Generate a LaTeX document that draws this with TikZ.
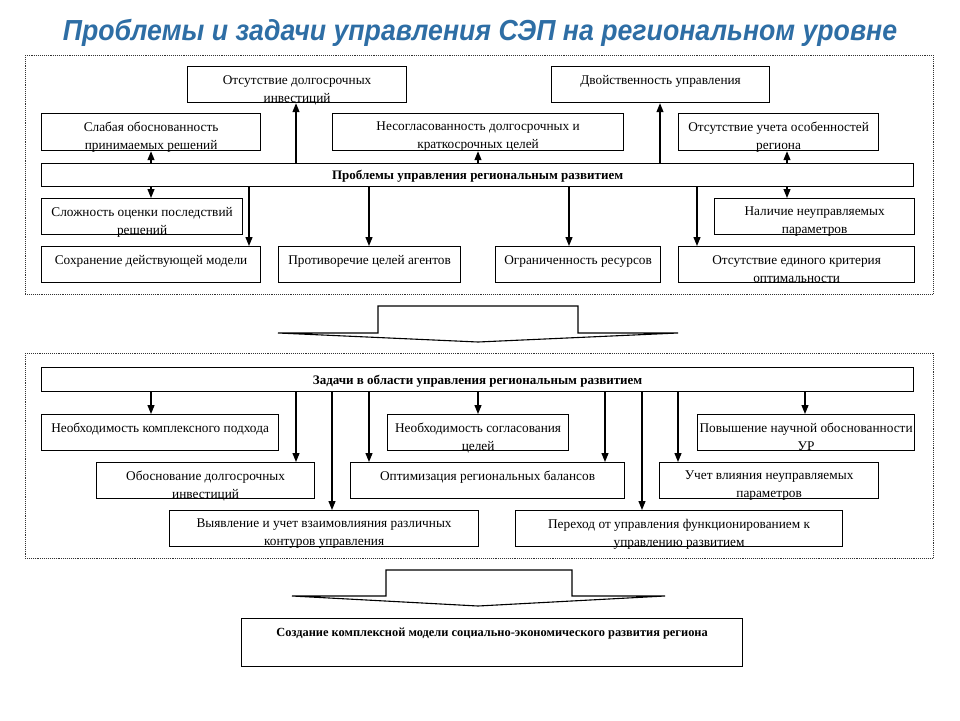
\documentclass[tikz,border=0pt]{standalone}
\usepackage{fontspec}
\setmainfont{Liberation Serif}
\newfontfamily\titlefont{Liberation Sans}
\usetikzlibrary{arrows.meta}
\definecolor{titleblue}{RGB}{46,110,165}
\begin{document}
\begin{tikzpicture}[x=1pt,y=-1pt,
  box/.style={draw,line width=1.2pt,anchor=north west,inner sep=0pt},
  bar/.style={box,font=\bfseries\fontsize{13}{15}\selectfont},
  txt/.style={anchor=north,yshift=-9pt,align=center,inner sep=0pt,
    font=\fontsize{13.3}{18}\selectfont},
  arr/.style={-{Triangle[width=7pt,length=9pt]},line width=1.2pt},
  frame/.style={densely dotted,line width=0.9pt,black!80},
  bigarrow/.style={line width=1.1pt}]
\useasboundingbox (0,0) rectangle (960,720);
\node[font=\titlefont\bfseries\itshape\fontsize{29}{34}\selectfont,text=titleblue]
  (title) at (480,33) {\scalebox{0.92}[1]{Проблемы и задачи управления СЭП на региональном уровне}};
% problems
\draw[frame] (25,55) rectangle (933,294);
\node[box,minimum width=219pt,minimum height=36pt,
  label={[txt]north:Отсутствие долгосрочных\\инвестиций}] (inv) at (187,66) {};
\node[box,minimum width=218pt,minimum height=36pt,
  label={[txt]north:Двойственность управления}] (dvoi) at (551,66) {};
\node[box,minimum width=219pt,minimum height=37pt,
  label={[txt]north:Слабая обоснованность\\принимаемых решений}] (slab) at (41,113) {};
\node[box,minimum width=291pt,minimum height=37pt,
  label={[txt]north:Несогласованность долгосрочных и\\краткосрочных целей}] (nesogl) at (332,113) {};
\node[box,minimum width=200pt,minimum height=37pt,
  label={[txt]north:Отсутствие учета особенностей\\региона}] (osob) at (678,113) {};
\node[bar,minimum width=872pt,minimum height=23pt,text depth=0pt,yshift=-1pt] (prob) at (41,162)
  {Проблемы управления региональным развитием};
\node[box,minimum width=201pt,minimum height=36pt,
  label={[txt]north:Сложность оценки последствий\\решений}] (slozh) at (41,198) {};
\node[box,minimum width=200pt,minimum height=36pt,
  label={[txt]north:Наличие неуправляемых\\параметров}] (nalich) at (714,198) {};
\node[box,minimum width=219pt,minimum height=36pt,
  label={[txt]north:Сохранение действующей модели}] (sohr) at (41,246) {};
\node[box,minimum width=182pt,minimum height=36pt,
  label={[txt]north:Противоречие целей агентов}] (protiv) at (278,246) {};
\node[box,minimum width=165pt,minimum height=36pt,
  label={[txt]north:Ограниченность ресурсов}] (ogran) at (495,246) {};
\node[box,minimum width=236pt,minimum height=36pt,
  label={[txt]north:Отсутствие единого критерия\\оптимальности}] (krit) at (678,246) {};
\draw[arr] (prob.north -| 296,0) -- (inv.south -| 296,0);
\draw[arr] (prob.north -| 151,0) -- (slab.south -| 151,0);
\draw[arr] (prob.north -| 478,0) -- (nesogl.south -| 478,0);
\draw[arr] (prob.north -| 660,0) -- (dvoi.south -| 660,0);
\draw[arr] (prob.north -| 787,0) -- (osob.south -| 787,0);
\draw[arr] (prob.south -| 151,0) -- (slozh.north -| 151,0);
\draw[arr] (prob.south -| 249,0) -- (sohr.north -| 249,0);
\draw[arr] (prob.south -| 369,0) -- (protiv.north -| 369,0);
\draw[arr] (prob.south -| 569,0) -- (ogran.north -| 569,0);
\draw[arr] (prob.south -| 697,0) -- (krit.north -| 697,0);
\draw[arr] (prob.south -| 787,0) -- (nalich.north -| 787,0);
\draw[bigarrow] (278,333) -- (378,333) -- (378,306) -- (578,306) -- (578,333)
  -- (678,333) -- (478,342) -- cycle;
% tasks
\draw[frame] (25,353) rectangle (933,558);
\node[bar,minimum width=872pt,minimum height=24pt,text depth=0pt,yshift=-1pt] (zad) at (41,366)
  {Задачи в области управления региональным развитием};
\node[box,minimum width=237pt,minimum height=36pt,
  label={[txt]north:Необходимость комплексного подхода}] (kompl) at (41,414) {};
\node[box,minimum width=181pt,minimum height=36pt,
  label={[txt]north:Необходимость согласования\\целей}] (sogl) at (387,414) {};
\node[box,minimum width=217pt,minimum height=36pt,
  label={[txt]north:Повышение научной обоснованности\\УР}] (povysh) at (697,414) {};
\node[box,minimum width=218pt,minimum height=36pt,
  label={[txt]north:Обоснование долгосрочных\\инвестиций}] (obosn) at (96,462) {};
\node[box,minimum width=274pt,minimum height=36pt,
  label={[txt]north:Оптимизация региональных балансов}] (optim) at (350,462) {};
\node[box,minimum width=219pt,minimum height=36pt,
  label={[txt]north:Учет влияния неуправляемых\\параметров}] (vliyan) at (659,462) {};
\node[box,minimum width=309pt,minimum height=36pt,
  label={[txt]north:Выявление и учет взаимовлияния различных\\контуров управления}] (vyyavl) at (169,510) {};
\node[box,minimum width=327pt,minimum height=36pt,
  label={[txt]north:Переход от управления функционированием к\\управлению развитием}] (perehod) at (515,510) {};
\draw[arr] (zad.south -| 151,0) -- (kompl.north -| 151,0);
\draw[arr] (zad.south -| 296,0) -- (obosn.north -| 296,0);
\draw[arr] (zad.south -| 332,0) -- (vyyavl.north -| 332,0);
\draw[arr] (zad.south -| 369,0) -- (optim.north -| 369,0);
\draw[arr] (zad.south -| 478,0) -- (sogl.north -| 478,0);
\draw[arr] (zad.south -| 605,0) -- (optim.north -| 605,0);
\draw[arr] (zad.south -| 642,0) -- (perehod.north -| 642,0);
\draw[arr] (zad.south -| 678,0) -- (vliyan.north -| 678,0);
\draw[arr] (zad.south -| 805,0) -- (povysh.north -| 805,0);
\draw[bigarrow] (292,596) -- (386,596) -- (386,570) -- (572,570) -- (572,596)
  -- (665,596) -- (478,606) -- cycle;
% result
\node[box,minimum width=501pt,minimum height=48pt,
  label={[txt,yshift=-1pt,font=\bfseries\fontsize{12.4}{14}\selectfont]north:Создание комплексной модели социально-экономического развития региона}]
  (model) at (241,618) {};
\end{tikzpicture}
\end{document}
